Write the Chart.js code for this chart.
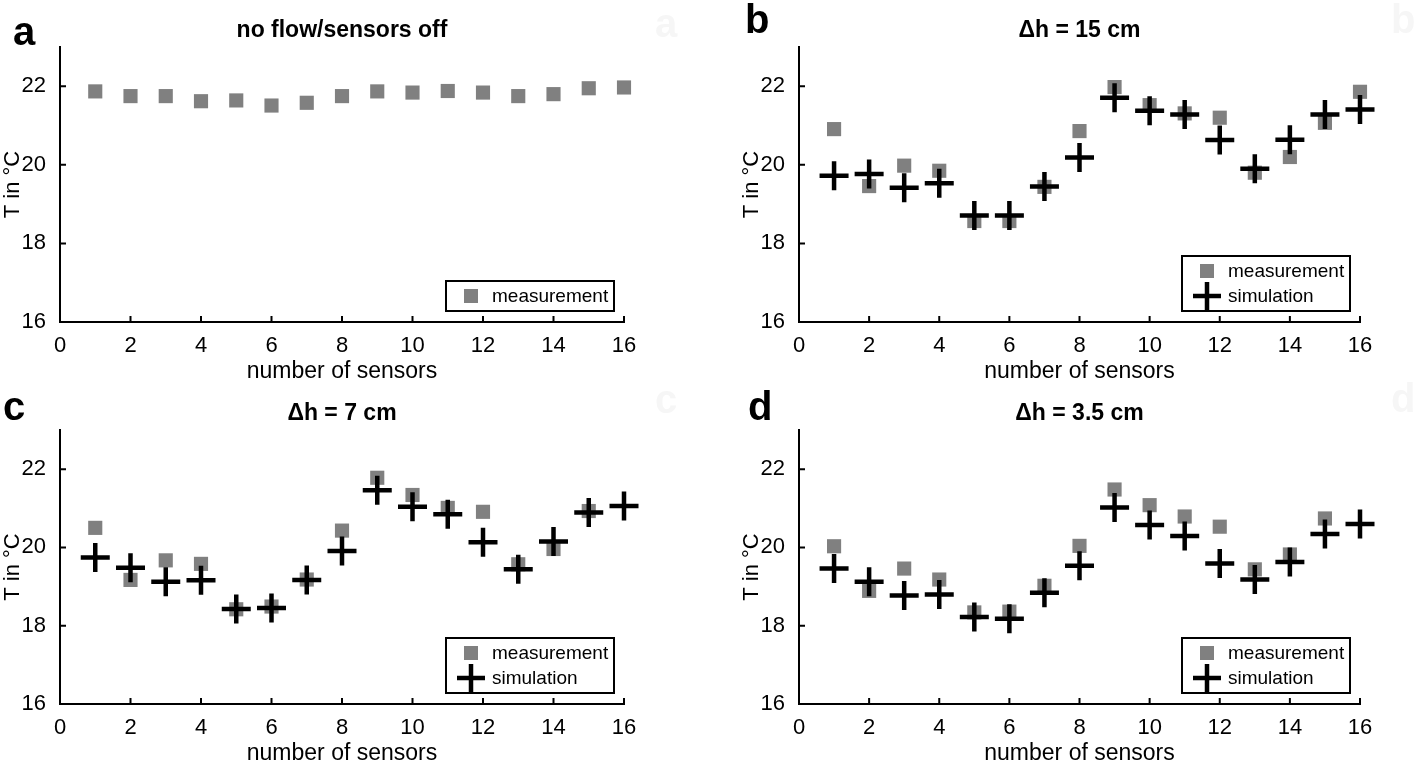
<!DOCTYPE html>
<html>
<head>
<meta charset="utf-8">
<title>Sensor temperatures</title>
<script src="https://cdn.jsdelivr.net/npm/chart.js@4.4.1/dist/chart.umd.min.js"></script>
<style>
  html, body { margin: 0; padding: 0; background: #fff; overflow: hidden; }
  #wrap { position: relative; width: 1418px; height: 767px; }
  #wrap canvas { position: absolute; left: 0; top: 0; }
</style>
</head>
<body>
<div id="wrap">
  <canvas id="chartA" width="1418" height="767"></canvas>
  <canvas id="chartB" width="1418" height="767"></canvas>
  <canvas id="chartC" width="1418" height="767"></canvas>
  <canvas id="chartD" width="1418" height="767"></canvas>
</div>
<script>
// sensor numbers on the x axis
const sensors = [1, 2, 3, 4, 5, 6, 7, 8, 9, 10, 11, 12, 13, 14, 15, 16];
const xTicks = [0, 2, 4, 6, 8, 10, 12, 14, 16];
const yTicks = [16, 18, 20, 22];

// a: no flow / sensors off
const measA = [21.87, 21.75, 21.75, 21.62, 21.64, 21.51, 21.58, 21.75, 21.87, 21.84, 21.88, 21.84, 21.75, 21.80, 21.95, 21.97];
// b: dh = 15 cm
const measB = [20.91, 19.46, 19.98, 19.85, 18.57, 18.57, 19.44, 20.86, 21.98, 21.52, 21.31, 21.20, 19.80, 20.20, 21.07, 21.86];
const simB = [19.72, 19.77, 19.42, 19.53, 18.71, 18.71, 19.45, 20.19, 21.71, 21.38, 21.28, 20.63, 19.90, 20.64, 21.28, 21.41];
// c: dh = 7 cm (no measurement for sensor 16)
const measC = [20.50, 19.17, 19.67, 19.58, 18.42, 18.49, 19.18, 20.43, 21.78, 21.34, 21.01, 20.91, 19.57, 19.96, 20.93, null];
const simC = [19.74, 19.48, 19.12, 19.16, 18.43, 18.45, 19.17, 19.91, 21.46, 21.04, 20.85, 20.13, 19.44, 20.15, 20.89, 21.06];
// d: dh = 3.5 cm
const measD = [20.03, 18.89, 19.46, 19.18, 18.34, 18.36, 19.02, 20.04, 21.48, 21.08, 20.79, 20.53, 19.44, 19.82, 20.74, null];
const simD = [19.46, 19.12, 18.77, 18.80, 18.22, 18.18, 18.84, 19.53, 21.02, 20.57, 20.29, 19.59, 19.18, 19.63, 20.34, 20.60];

const FONT = '"Liberation Sans", Arial, Helvetica, sans-serif';
Chart.defaults.font.family = FONT;
Chart.defaults.color = '#000';

const GREY = '#808080';
const Y_AXIS_W = 60;
const X_AXIS_H = 63;

function points(values) {
  return sensors.map((s, i) => ({ x: s, y: values[i] }));
}

function drawSquare(ctx, x, y) {
  ctx.fillStyle = GREY;
  ctx.fillRect(x - 7, y - 7, 14, 14);
}

function drawCross(ctx, x, y) {
  ctx.strokeStyle = '#000';
  ctx.lineWidth = 4.5;
  ctx.beginPath();
  ctx.moveTo(x - 14, y); ctx.lineTo(x + 14, y);
  ctx.moveTo(x, y - 14); ctx.lineTo(x, y + 14);
  ctx.stroke();
}

// letter, title, inward ticks (matlab style) and the boxed legend
function makeDecor(panel) {
  return {
    id: 'panelDecor',
    afterDraw(chart) {
      const ctx = chart.ctx;
      const area = chart.chartArea;
      const xs = chart.scales.x, ys = chart.scales.y;
      ctx.save();

      ctx.strokeStyle = '#000';
      ctx.lineWidth = 2;
      ctx.beginPath();
      xs.ticks.forEach(t => {
        const px = xs.getPixelForValue(t.value);
        ctx.moveTo(px, area.bottom);
        ctx.lineTo(px, area.bottom - 6);
      });
      ys.ticks.forEach(t => {
        const py = ys.getPixelForValue(t.value);
        ctx.moveTo(area.left, py);
        ctx.lineTo(area.left + 6, py);
      });
      ctx.stroke();

      // panel letter + its faint ghost on the right
      ctx.font = 'bold 40px ' + FONT;
      ctx.textBaseline = 'alphabetic';
      ctx.textAlign = 'left';
      ctx.fillStyle = '#f6f6f6';
      ctx.fillText(panel.letter, panel.ghostX, panel.ghostY);
      ctx.fillStyle = '#000';
      ctx.fillText(panel.letter, panel.letterX, panel.letterY);

      ctx.font = 'bold 23px ' + FONT;
      ctx.textAlign = 'center';
      ctx.fillText(panel.title, (area.left + area.right) / 2, area.top - 10);

      // legend
      const items = panel.legend;
      const boxW = 168;
      const boxH = 30 + (items.length - 1) * 25;
      const boxR = area.right - 10;
      const boxB = area.bottom - 11;
      const boxL = boxR - boxW;
      const boxT = boxB - boxH;
      ctx.strokeStyle = '#000';
      ctx.lineWidth = 2;
      ctx.strokeRect(boxL, boxT, boxW, boxH);
      ctx.font = '19px ' + FONT;
      ctx.textAlign = 'left';
      ctx.textBaseline = 'middle';
      items.forEach((it, i) => {
        const cy = boxT + 15 + i * 25;
        if (it === 'measurement') drawSquare(ctx, boxL + 25, cy);
        else drawCross(ctx, boxL + 25, cy);
        ctx.fillStyle = '#000';
        ctx.fillText(it, boxL + 46, cy + 1);
      });
      ctx.restore();
    }
  };
}

function makeChart(id, panel, meas, sim) {
  const datasets = [{
    label: 'measurement',
    data: points(meas),
    pointStyle: 'rect',
    pointRadius: 10,
    pointHoverRadius: 10,
    backgroundColor: GREY,
    borderColor: GREY,
    borderWidth: 0,
    clip: false,
    order: 2
  }];
  if (sim) {
    datasets.push({
      label: 'simulation',
      data: points(sim),
      pointStyle: 'cross',
      pointRadius: 14.5,
      pointHoverRadius: 14.5,
      borderColor: '#000',
      backgroundColor: '#000',
      borderWidth: 4.5,
      clip: false,
      order: 1
    });
  }

  const ctx = document.getElementById(id).getContext('2d');
  return new Chart(ctx, {
    type: 'scatter',
    data: { datasets: datasets },
    options: {
      responsive: false,
      animation: false,
      devicePixelRatio: 1,
      events: [],
      layout: {
        padding: {
          left: panel.left - Y_AXIS_W,
          right: 1418 - panel.right,
          top: panel.top,
          bottom: 767 - panel.bottom - X_AXIS_H
        }
      },
      plugins: {
        legend: { display: false },
        tooltip: { enabled: false },
        title: { display: false }
      },
      scales: {
        x: {
          type: 'linear',
          min: xTicks[0],
          max: xTicks[xTicks.length - 1],
          afterBuildTicks: s => { s.ticks = xTicks.map(v => ({ value: v })); },
          ticks: { padding: 3, font: { size: 22 }, color: '#000', maxRotation: 0, autoSkip: false },
          grid: { display: false },
          border: { color: '#000', width: 2 },
          title: { display: true, text: 'number of sensors', font: { size: 23 }, color: '#000', padding: 0 },
          afterFit: s => { s.height = X_AXIS_H; }
        },
        y: {
          type: 'linear',
          min: 16,
          max: 23,
          afterBuildTicks: s => { s.ticks = yTicks.map(v => ({ value: v })); },
          ticks: { padding: 6, font: { size: 22 }, color: '#000' },
          grid: { display: false },
          border: { color: '#000', width: 2 },
          title: { display: true, text: 'T in °C', font: { size: 22 }, color: '#000', padding: { top: 0, bottom: 0 } },
          afterFit: s => { s.width = Y_AXIS_W; }
        }
      }
    },
    plugins: [makeDecor(panel)]
  });
}

const panelA = { letter: 'a', title: 'no flow/sensors off', left: 60, right: 624, top: 47, bottom: 322,
  letterX: 13, letterY: 45, ghostX: 655, ghostY: 37, legend: ['measurement'] };
const panelB = { letter: 'b', title: 'Δh = 15 cm', left: 799, right: 1360, top: 47, bottom: 322,
  letterX: 745, letterY: 33, ghostX: 1391, ghostY: 33, legend: ['measurement', 'simulation'] };
const panelC = { letter: 'c', title: 'Δh = 7 cm', left: 60, right: 624, top: 430, bottom: 704,
  letterX: 3, letterY: 420, ghostX: 655, ghostY: 413, legend: ['measurement', 'simulation'] };
const panelD = { letter: 'd', title: 'Δh = 3.5 cm', left: 799, right: 1360, top: 430, bottom: 704,
  letterX: 748, letterY: 420, ghostX: 1391, ghostY: 412, legend: ['measurement', 'simulation'] };

makeChart('chartA', panelA, measA, null);
makeChart('chartB', panelB, measB, simB);
makeChart('chartC', panelC, measC, simC);
makeChart('chartD', panelD, measD, simD);
</script>
</body>
</html>
